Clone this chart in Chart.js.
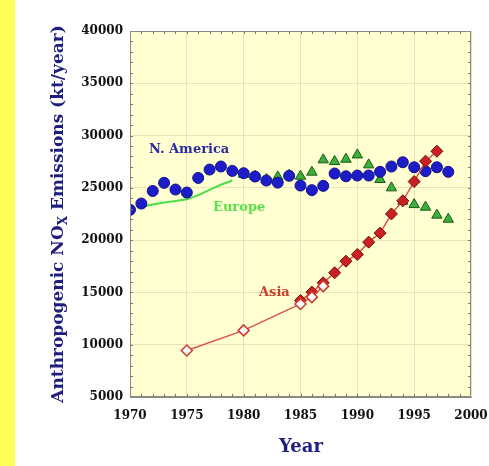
<!DOCTYPE html>
<html>
<head>
<meta charset="utf-8">
<script src="https://cdn.jsdelivr.net/npm/chart.js@4"></script>
<style>
  body { margin: 0; background: #fff; }
  #strip { position: absolute; left: 0; top: 0; width: 15px; height: 466px; background: #ffff55; }
  #chart { position: absolute; left: 0; top: 0; }
</style>
</head>
<body>
<div id="strip"></div>
<canvas id="chart" width="489" height="466"></canvas>
<script>
// values (kt/year)
const naYears = [1970, 1971, 1972, 1973, 1974, 1975, 1976, 1977, 1978, 1979, 1980, 1981, 1982, 1983, 1984,
                 1985, 1986, 1987, 1988, 1989, 1990, 1991, 1992, 1993, 1994, 1995, 1996, 1997, 1998];
const naValues = [22900, 23500, 24700, 25480, 24840, 24550, 25950, 26750, 27040, 26620, 26400, 26080, 25700, 25500, 26150,
                  25220, 24780, 25190, 26370, 26110, 26180, 26180, 26530, 27040, 27450, 26970, 26590, 26970, 26530];

const euLineYears = [1971, 1972, 1973, 1974, 1975, 1976, 1977, 1978, 1979];
const euLineValues = [23200, 23400, 23600, 23750, 23900, 24300, 24800, 25300, 25700];

const euYears = [1980, 1981, 1982, 1983, 1984, 1985, 1986, 1987, 1988, 1989, 1990, 1991, 1992, 1993, 1994,
                 1995, 1996, 1997, 1998];
const euValues = [26300, 26100, 25800, 26050, 26200, 26110, 26500, 27680, 27520, 27740, 28150, 27200, 25800, 25000, 23720,
                  23400, 23150, 22390, 22000];

const asiaOpenYears = [1975, 1980, 1985, 1986, 1987];
const asiaOpenValues = [9450, 11370, 13900, 14550, 15600];

const asiaYears = [1985, 1986, 1987, 1988, 1989, 1990, 1991, 1992, 1993, 1994, 1995, 1996, 1997];
const asiaValues = [14230, 15030, 15920, 16880, 17990, 18630, 19810, 20670, 22510, 23760, 25600, 27550, 28500];

const xTicks = [1970, 1975, 1980, 1985, 1990, 1995, 2000];
const yTicks = [5000, 10000, 15000, 20000, 25000, 30000, 35000, 40000];

const seriesLabels = [
    { text: 'N. America', x: 1975.2, y: 28650, color: '#2b2b9c' },
    { text: 'Europe', x: 1979.6, y: 23150, color: '#5ce04a' },
    { text: 'Asia', x: 1982.7, y: 14950, color: '#c8402e' }
];

const pts = (xs, ys) => xs.map((x, i) => ({ x: x, y: ys[i] }));

const serif = '"DejaVu Serif", serif';
const navy = '#1e1e7e';

const decor = {
    id: 'decor',
    beforeDraw(chart) {
        const { ctx, chartArea: a } = chart;
        ctx.save();
        ctx.fillStyle = '#ffffd2';
        ctx.fillRect(a.left, a.top, a.right - a.left, a.bottom - a.top);
        ctx.restore();
    },
    afterDatasetsDraw(chart) {
        const { ctx, scales } = chart;
        ctx.save();
        ctx.font = 'bold 13px ' + serif;
        ctx.textAlign = 'center';
        ctx.textBaseline = 'middle';
        seriesLabels.forEach(l => {
            ctx.fillStyle = l.color;
            ctx.fillText(l.text, scales.x.getPixelForValue(l.x), scales.y.getPixelForValue(l.y));
        });
        ctx.restore();
    },
    afterDraw(chart) {
        const { ctx, chartArea: a, scales } = chart;
        ctx.save();
        // frame
        ctx.strokeStyle = '#8a8a80';
        ctx.lineWidth = 1;
        ctx.strokeRect(a.left + 0.5, a.top + 0.5, a.right - a.left - 1, a.bottom - a.top - 1);
        // minor ticks
        ctx.strokeStyle = '#777';
        ctx.beginPath();
        for (let yr = 1971; yr < 2000; yr++) {
            const px = Math.round(scales.x.getPixelForValue(yr)) + 0.5;
            ctx.moveTo(px, a.bottom); ctx.lineTo(px, a.bottom - 3);
            ctx.moveTo(px, a.top); ctx.lineTo(px, a.top + 3);
        }
        for (let v = 6000; v < 40000; v += 1000) {
            const py = Math.round(scales.y.getPixelForValue(v)) + 0.5;
            ctx.moveTo(a.left, py); ctx.lineTo(a.left + 3, py);
            ctx.moveTo(a.right, py); ctx.lineTo(a.right - 3, py);
        }
        ctx.stroke();

        // y title with subscript X
        ctx.fillStyle = navy;
        ctx.translate(57, 214);
        ctx.rotate(-Math.PI / 2);
        ctx.textBaseline = 'alphabetic';
        const big = 'bold 17px ' + serif, small = 'bold 12px ' + serif;
        const parts = [
            { t: 'Anthropogenic NO', f: big, dy: 0 },
            { t: 'X', f: small, dy: 4 },
            { t: ' Emissions (kt/year)', f: big, dy: 0 }
        ];
        let total = 0;
        parts.forEach(p => { ctx.font = p.f; p.w = ctx.measureText(p.t).width; total += p.w; });
        let cx = -total / 2;
        parts.forEach(p => {
            ctx.font = p.f;
            ctx.fillText(p.t, cx, 6 + p.dy);
            cx += p.w;
        });
        ctx.restore();

        // x title
        ctx.save();
        ctx.fillStyle = navy;
        ctx.font = 'bold 18px ' + serif;
        ctx.textAlign = 'center';
        ctx.textBaseline = 'middle';
        ctx.fillText('Year', 301, 447);
        ctx.restore();
    }
};

new Chart(document.getElementById('chart'), {
    type: 'scatter',
    data: {
        datasets: [
            {
                label: 'Asia (open)',
                data: pts(asiaOpenYears, asiaOpenValues),
                showLine: true,
                borderColor: '#dd5548',
                borderWidth: 1.5,
                pointStyle: 'rectRot',
                pointRadius: 5.5,
                pointBackgroundColor: '#ffffff',
                pointBorderColor: '#cc3a30',
                pointBorderWidth: 1.5
            },
            {
                label: 'Asia',
                data: pts(asiaYears, asiaValues),
                showLine: true,
                borderColor: '#dd5548',
                borderWidth: 1.5,
                pointStyle: 'rectRot',
                pointRadius: 6,
                pointBackgroundColor: '#cc1f1f',
                pointBorderColor: '#6e1010',
                pointBorderWidth: 1
            },
            {
                label: 'N. America',
                data: pts(naYears, naValues),
                showLine: false,
                pointStyle: 'circle',
                pointRadius: 5.5,
                pointBackgroundColor: '#1c1cc8',
                pointBorderColor: '#12128a',
                pointBorderWidth: 1
            },
            {
                label: 'Europe',
                data: pts(euYears, euValues),
                showLine: false,
                pointStyle: 'triangle',
                pointRadius: 6,
                pointBackgroundColor: '#3fae3a',
                pointBorderColor: '#145c14',
                pointBorderWidth: 1
            },
            {
                label: 'Europe (line)',
                data: pts(euLineYears, euLineValues),
                showLine: true,
                borderColor: '#4ddd45',
                borderWidth: 2,
                pointRadius: 0
            }
        ]
    },
    options: {
        responsive: false,
        animation: false,
        layout: { padding: { left: 0, top: 31, right: 18, bottom: 0 } },
        plugins: {
            legend: { display: false },
            tooltip: { enabled: false }
        },
        scales: {
            x: {
                type: 'linear',
                min: 1970,
                max: 2000,
                afterFit: s => { s.height = 69; s.paddingLeft = 0; s.paddingRight = 0; },
                afterBuildTicks: s => { s.ticks = xTicks.map(v => ({ value: v })); },
                ticks: {
                    color: '#111',
                    font: { family: serif, size: 12, weight: 'bold' },
                    padding: 12,
                    callback: v => String(v)
                },
                grid: { color: '#e8e4b4', drawTicks: false },
                border: { color: '#8a8a80' }
            },
            y: {
                min: 5000,
                max: 40000,
                afterFit: s => { s.width = 130; s.paddingTop = 0; s.paddingBottom = 0; },
                afterBuildTicks: s => { s.ticks = yTicks.map(v => ({ value: v })); },
                ticks: {
                    color: '#111',
                    font: { family: serif, size: 12, weight: 'bold' },
                    padding: 7,
                    callback: v => String(v)
                },
                grid: { color: '#e8e4b4', drawTicks: false },
                border: { color: '#8a8a80' }
            }
        }
    },
    plugins: [decor]
});
</script>
</body>
</html>
